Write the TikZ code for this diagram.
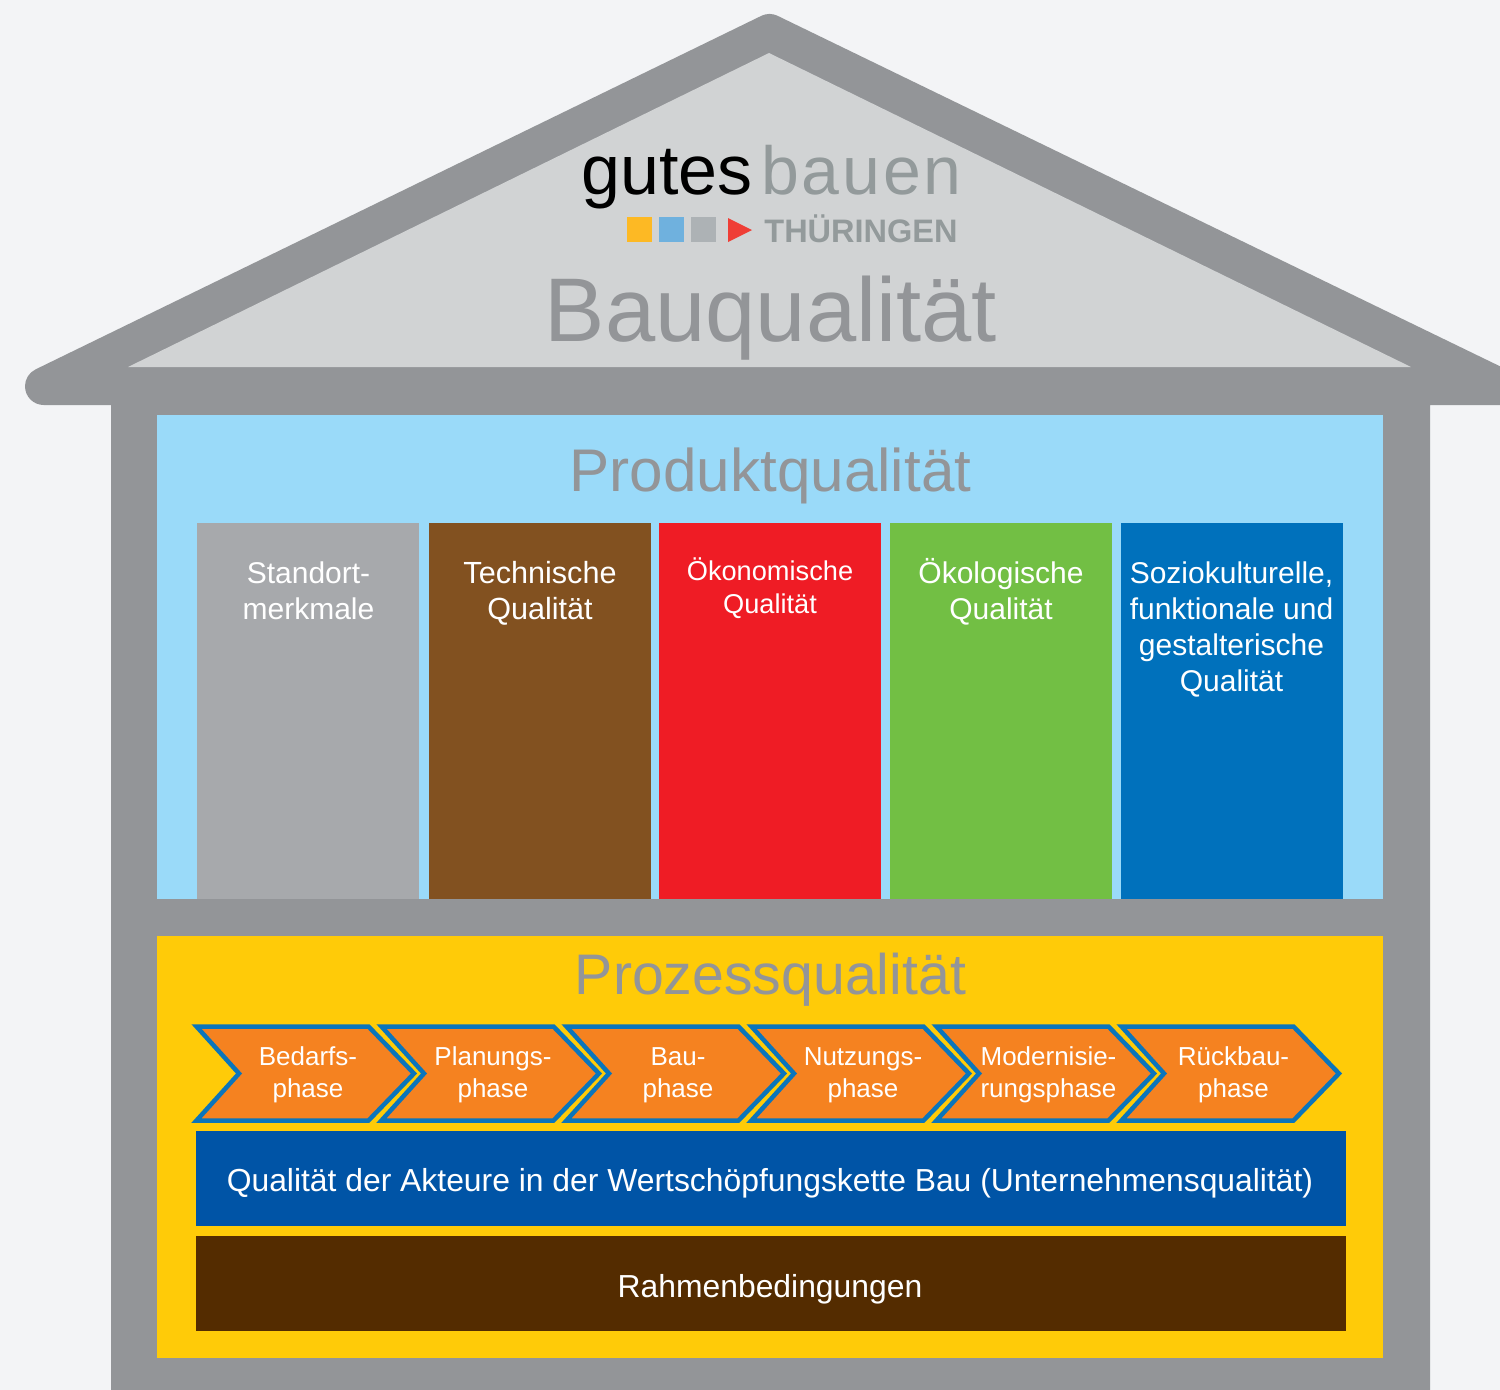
\documentclass[tikz,border=0pt]{standalone}
\usepackage{fontspec}
\setmainfont{Liberation Sans}
\newfontfamily\spacedfont[LetterSpace=4]{Liberation Sans}
\definecolor{bgc}{HTML}{F3F4F6}
\definecolor{housec}{HTML}{939598}
\definecolor{roofc}{HTML}{D1D3D4}
\definecolor{panelc}{HTML}{9ADAF9}
\definecolor{yellowc}{HTML}{FFCB08}
\definecolor{orangec}{HTML}{F58220}
\definecolor{chevc}{HTML}{0B75BB}
\definecolor{c1}{HTML}{A7A9AC}
\definecolor{c2}{HTML}{825120}
\definecolor{c3}{HTML}{EF1C25}
\definecolor{c4}{HTML}{72BF44}
\definecolor{c5}{HTML}{0071BC}
\definecolor{barblue}{HTML}{0054A6}
\definecolor{barbrown}{HTML}{542C00}
\definecolor{logogray}{HTML}{939A9B}
\tikzset{
  box/.style={anchor=north west,inner sep=0pt,outer sep=0pt,minimum width=#1},
  coltext/.style={text=white,align=center,anchor=north,inner sep=0pt,font=\fontsize{30}{36}\selectfont},
  chevtext/.style={text=white,align=center,anchor=north,inner sep=0pt,font=\fontsize{26}{32}\selectfont},
  bartext/.style={text=white,anchor=base,inner sep=0pt,font=\fontsize{31.85}{40}\selectfont},
  title/.style={text=housec,anchor=base,inner sep=0pt,font=\fontsize{#1}{#1}\selectfont},
  chev/.style={draw=chevc,line width=4.5pt,fill=orangec,miter limit=10},
}
\newcommand{\chevron}[1]{%
  \draw[chev,shift={(#1,0)}] (196.5,1026.5) -- (368.5,1026.5) -- (414,1073.5) -- (368.5,1120.5) -- (196.5,1120.5) -- (239,1073.5) -- cycle;}
\begin{document}
\begin{tikzpicture}[x=1pt,y=-1pt]
\useasboundingbox (0,0) rectangle (1500,1390);
\clip (0,0) rectangle (1500,1390);
\fill[bgc] (0,0) rectangle (1500,1390);
% house
\fill[housec] (111,1390) -- (111,405) -- (43.75,405) arc[start angle=90,end angle=243.9,radius=18.75]
  -- (760,16.5) .. controls (767,13) and (772,13) .. (779,16.5) -- (1520,376) -- (1520,405) -- (1430,405) -- (1430,1390) -- cycle;
\fill[roofc] (769,53) -- (1411,367) -- (128,367) -- cycle;
% panels
\node[box=1226pt,minimum height=484pt,fill=panelc] (produkt) at (157,415) {};
\node[box=1226pt,minimum height=422pt,fill=yellowc] (prozess) at (157,936) {};
% columns
\node[box=222pt,minimum height=376pt,fill=c1] (col1) at (197,523) {};
\node[box=222pt,minimum height=376pt,fill=c2] (col2) at (429,523) {};
\node[box=222pt,minimum height=376pt,fill=c3] (col3) at (659,523) {};
\node[box=222pt,minimum height=376pt,fill=c4] (col4) at (890,523) {};
\node[box=222pt,minimum height=376pt,fill=c5] (col5) at (1121,523) {};
\node[coltext] (t1) at (308.5,562) {Standort-\\merkmale};
\node[coltext,font=\fontsize{30.6}{36}\selectfont] (t2) at (540,561) {Technische\\Qualität};
\node[coltext,font=\fontsize{27.2}{33}\selectfont] (t3) at (770,558) {Ökonomische\\Qualität};
\node[coltext] (t4) at (1001,558) {Ökologische\\Qualität};
\node[coltext] (t5) at (1231.5,562) {Soziokulturelle,\\funktionale und\\gestalterische\\Qualität};
% chevrons
\chevron{0}\chevron{185}\chevron{370}\chevron{555}\chevron{740}\chevron{925}
\node[chevtext] (p1) at (308,1046) {Bedarfs-\\phase};
\node[chevtext] (p2) at (493,1046) {Planungs-\\phase};
\node[chevtext] (p3) at (678,1047) {Bau-\\phase};
\node[chevtext] (p4) at (863,1047) {Nutzungs-\\phase};
\node[chevtext] (p5) at (1048.5,1046) {Modernisie-\\rungsphase};
\node[chevtext] (p6) at (1233.5,1046) {Rückbau-\\phase};
% bars
\node[box=1150pt,minimum height=95pt,fill=barblue] (bar1) at (196,1131) {};
\node[box=1150pt,minimum height=95pt,fill=barbrown] (bar2) at (196,1236) {};
\node[bartext] (bt1) at (770,1191) {Qualität der Akteure in der Wertschöpfungskette Bau (Unternehmensqualität)};
\node[bartext] (bt2) at (770,1297) {Rahmenbedingungen};
% titles
\node[title=90.4] (bq) at (771,341) {Bauqualität};
\node[title=60.2] (pq) at (770.5,491) {Produktqualität};
\node[title=57.2] (zq) at (770.5,994) {Prozessqualität};
% logo
\node[anchor=base,inner sep=0pt,text=black,font=\fontsize{70}{70}\selectfont] (gutes) at (667,194) {gutes};
\node[anchor=base,inner sep=0pt,text=logogray,font=\spacedfont\fontsize{68}{68}\selectfont] (bauen) at (861.5,194) {bauen};
\node[box=25pt,minimum height=25pt,fill={rgb,255:red,253;green,185;blue,36}] (sq1) at (627,217) {};
\node[box=25pt,minimum height=25pt,fill={rgb,255:red,111;green,177;blue,222}] (sq2) at (659,217) {};
\node[box=25pt,minimum height=25pt,fill={rgb,255:red,173;green,178;blue,181}] (sq3) at (691,217) {};
\fill[fill={rgb,255:red,239;green,62;blue,54}] (728,218) -- (752,230) -- (728,242) -- cycle;
\node[anchor=base,inner sep=0pt,text=logogray,font=\bfseries\fontsize{32.5}{34}\selectfont] (thu) at (861,242) {THÜRINGEN};
\end{tikzpicture}
\end{document}
